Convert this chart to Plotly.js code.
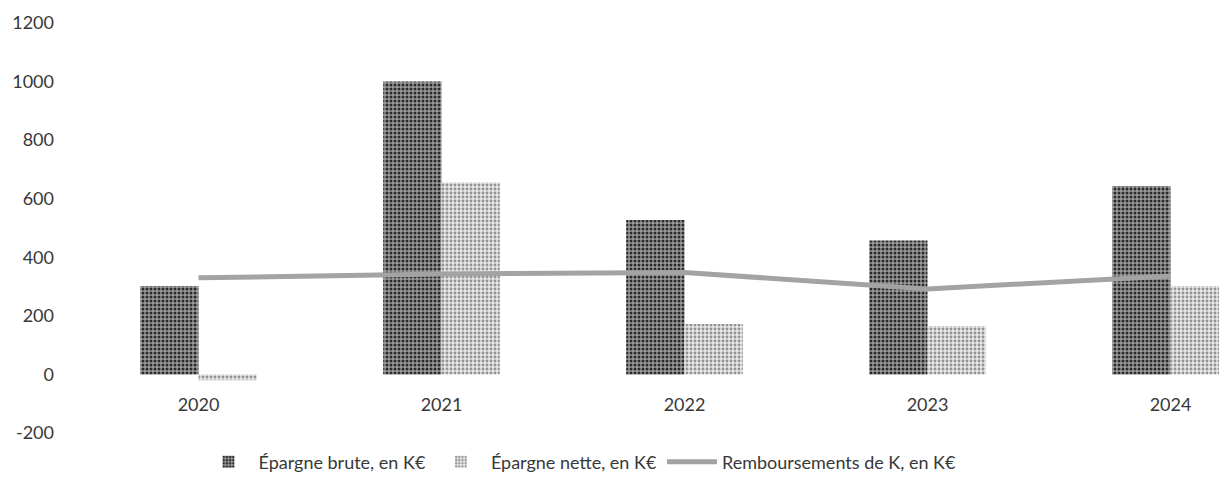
<!DOCTYPE html>
<html>
<head>
<meta charset="utf-8">
<script src="https://cdn.plot.ly/plotly-3.0.1.min.js"></script>
<style>html,body{margin:0;padding:0;background:#fff;}#chart{width:1219px;height:495px;}</style>
</head>
<body>
<div id="chart"></div>
<script>
const years = ['2020', '2021', '2022', '2023', '2024'];
const epargneBrute = [302, 1000, 527, 457, 643];
const epargneNette = [-20, 655, 172, 165, 302];
const remboursements = [330, 343, 348, 292, 336];
const seriesNames = ['Épargne brute, en K€', 'Épargne nette, en K€', 'Remboursements de K, en K€'];
const yTickVals = [-200, 0, 200, 400, 600, 800, 1000, 1200];
const yTickText = ['-200', '0', '200', '400', '600', '800', '1000', '1200'];

const yMin = -200, yMax = 1200;
const W = 1219, H = 495;
const mL = 77, mR = 0, mT = 23, mB = 62;
const catStep = 243; // px per category
const xRight = (W - mL - mR) / catStep - 0.5;

const font = {family: 'Lato, "Open Sans", sans-serif', size: 18, color: '#383838'};

const traces = [
  {
    type: 'bar', name: seriesNames[0], x: years, y: epargneBrute,
    marker: {color: '#8a8a8a', pattern: {shape: '.', bgcolor: '#9c9c9c', fgcolor: '#2a2a2a', size: 4, solidity: 0.45}, line: {width: 0}}
  },
  {
    type: 'bar', name: seriesNames[1], x: years, y: epargneNette,
    marker: {color: '#d2d2d2', pattern: {shape: '.', bgcolor: '#e6e6e6', fgcolor: '#929292', size: 4, solidity: 0.4}, line: {width: 0}}
  },
  {
    type: 'scatter', mode: 'lines', name: seriesNames[2], x: years, y: remboursements,
    line: {color: '#a3a3a3', width: 5}
  }
];

const layout = {
  width: W, height: H,
  margin: {l: mL, r: mR, t: mT, b: mB, pad: 0},
  paper_bgcolor: '#ffffff', plot_bgcolor: '#ffffff',
  font: font,
  barmode: 'group', bargap: 0.52, bargroupgap: 0,
  showlegend: true,
  legend: {
    orientation: 'h', xref: 'container', yref: 'container',
    x: 580 / W, xanchor: 'center', y: (H - 462) / H, yanchor: 'middle',
    font: font, itemwidth: 50, traceorder: 'normal', bgcolor: 'rgba(0,0,0,0)'
  },
  xaxis: {
    type: 'category', range: [-0.5, xRight],
    anchor: 'free', position: (0 - yMin) / (yMax - yMin),
    showgrid: false, zeroline: false, showline: false, ticks: '',
    ticklabelstandoff: 18, tickfont: font, fixedrange: true
  },
  yaxis: {
    range: [yMin, yMax], tickmode: 'array', tickvals: yTickVals, ticktext: yTickText,
    showgrid: false, zeroline: false, showline: false, ticks: '',
    ticklabelstandoff: 22, tickfont: font, fixedrange: true
  }
};

Plotly.newPlot('chart', traces, layout, {displayModeBar: false, staticPlot: true});
</script>
</body>
</html>
